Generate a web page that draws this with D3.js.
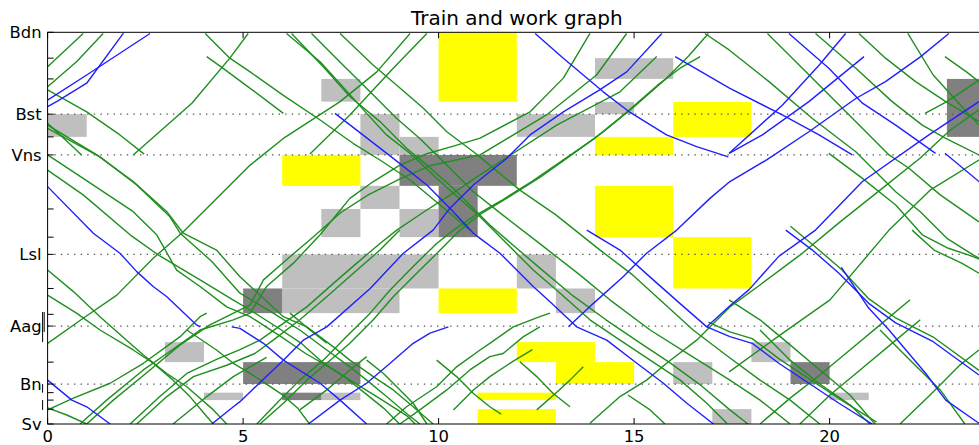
<!DOCTYPE html>
<html>
<head>
<meta charset="utf-8">
<script src="https://cdnjs.cloudflare.com/ajax/libs/d3/7.8.5/d3.min.js"></script>
<style>
  html, body { margin: 0; padding: 0; background: #fff; }
  svg { display: block; font-family: "DejaVu Sans", sans-serif; }
</style>
</head>
<body>
<svg id="chart" width="979" height="445"></svg>
<script>
// Stations along the line (km from Sv) and the unlabeled intermediate points
const stationNames = ["Sv", "Bn", "Aag", "Lsl", "Vns", "Bst", "Bdn"];
const stationKm = [0, 10.2, 25.0, 43.3, 68.7, 79.1, 100];
const minorKm = [3.8, 6.1, 8.0, 15.8, 28.0, 34.6, 47.7, 54.9, 73.3, 88.1, 93.4];
const hourTicks = [0, 5, 10, 15, 20];

// Work windows: [start h, end h, from km, to km]
const yellowBlocks = [
  [10, 12, 82.3, 100], [6, 8, 60.8, 68.7], [14, 16, 68.7, 73.3], [16, 18, 73.3, 82.2],
  [14, 16, 47.7, 60.8], [16, 18, 34.6, 47.7], [10, 12, 28.3, 34.6], [12, 14, 15.8, 20.9],
  [13, 15, 10.2, 15.8], [11, 13, 6.1, 8.0], [11, 13, 0, 3.8]
];
const lightBlocks = [
  [0, 1, 73.3, 79.1], [7, 8, 82.3, 88.1], [8, 9, 68.7, 79.1], [9, 10, 68.7, 73.3],
  [8, 9, 54.9, 60.8], [7, 8, 47.7, 54.9], [9, 10, 47.7, 54.9], [6, 10, 34.6, 43.3],
  [6, 9, 28.3, 34.6], [12, 13, 34.6, 43.3], [13, 14, 28.3, 34.6], [12, 14, 73.3, 79.1],
  [14, 15, 79.1, 82.2], [14, 16, 88.1, 93.4], [3, 4, 15.8, 20.9], [4, 5, 6.1, 8.0],
  [7, 8, 6.1, 8.0], [16, 17, 10.2, 15.8], [17, 18, 0, 3.8], [18, 19, 15.8, 20.9],
  [20, 21, 6.1, 8.0]
];
const darkBlocks = [
  [9, 12, 60.8, 68.7], [10, 11, 47.7, 60.8], [5, 6, 28.3, 34.6], [5, 8, 10.2, 15.8],
  [6, 7, 6.1, 8.0], [19, 20, 10.2, 15.8], [23, 24, 73.3, 88.1]
];

// Passenger train paths: [h, km]
const blueTrains = [
  [[0,81.0],[0.23,82.3],[1.0,87.0],[1.94,99.8]],
  [[0,82.7],[1.0,89.1],[2.62,99.7]],
  [[0,60.6],[1.17,48.7],[1.85,43.6],[2.28,38.9],[2.70,35.1],[3.05,32.5],[3.81,25.3],[3.9,24.8]],
  [[4.71,24.8],[4.92,24.4],[5.52,20.6],[6.03,16.3],[6.97,10.4],[7.48,6.1],[8.16,0]],
  [[0,11.2],[0.62,6.1],[1.0,4.4],[1.6,0]],
  [[4.2,0],[4.75,4.4],[4.92,5.7],[6.03,16.3],[6.54,21.4],[7.14,24.8],[8.25,34.6],[9.10,43.6],[9.86,49.5],[10.29,55.1],[10.89,61.0],[11.31,64.4],[11.74,67.8],[12.34,73.8],[13.19,79.7],[14.12,85.3],[14.81,89.9],[15.71,99.7]],
  [[6.67,0],[7.48,6.1],[8.16,10.4],[8.76,15.5],[9.35,20.6],[9.78,23.2],[10.25,24.8]],
  [[7.35,79.3],[8.84,67.8],[9.70,61.0],[10.29,55.1],[10.89,48.7],[11.06,47.4],[11.57,43.6],[12.42,35.1],[12.85,31.2],[13.53,24.8],[14.30,21.4],[15.07,15.5],[15.75,10.4],[16.35,5.3],[17.03,0]],
  [[12.47,99.7],[13.19,93.4],[14.21,84.8],[14.89,79.6],[15.83,73.8],[16.60,70.8],[17.41,68.2]],
  [[13.32,24.8],[13.96,30.8],[14.72,37.6],[15.32,43.6],[16.09,49.5],[16.94,57.6],[17.45,61.9],[18.4,67.5],[19.47,74.6],[20.67,83.1],[21.43,87.4],[22.33,93.8],[23.05,99.7]],
  [[13.79,49.5],[14.64,44.4],[15.49,36.8],[16.17,30.8],[16.86,24.8],[17.45,22.3],[18.02,20.6],[18.70,15.5],[19.47,10.4],[20.24,5.3],[21.09,0]],
  [[16.05,93.8],[17.45,85.7],[18.79,78.9],[19.73,73.8],[20.58,68.7]],
  [[17.43,69.1],[18.79,81.4],[19.73,91.6],[20.41,99.7]],
  [[17.43,69.1],[18.28,73.8],[19.47,82.3],[20.88,93.8]],
  [[18.88,49.5],[19.56,44.4],[20.24,38.5],[21.0,30.8],[21.69,25.8],[22.65,21.0],[23.82,12.5]],
  [[20.3,40.0],[21.0,29.6],[21.52,24.0],[22.46,12.9],[22.97,6.1],[23.82,0.2]],
  [[16.86,24.8],[17.43,30.0],[17.94,34.3],[18.70,42.8],[19.64,49.5],[20.84,61.9],[22.54,73.8],[23.82,82.3]],
  [[18.96,99.7],[19.98,90.8],[20.84,81.9],[21.69,76.3],[22.71,69.1]],
  [[22.95,69.1],[23.82,61.9],[24.2,58.5]]
];

// Freight train paths: [h, km]
const greenTrains = [
  [[0,91.2],[0.91,99.7]],
  [[0,86.1],[0.74,92.5],[1.42,99.7]],
  [[0,85.3],[1.0,79.7],[1.85,73.8],[2.47,68.9]],
  [[0,76.8],[0.87,68.7]],
  [[0,76.3],[1.26,68.7],[2.19,61.9],[3.05,54.2],[3.47,48.7],[4.32,44.4],[4.92,37.6],[6.03,27.4],[6.63,24.8],[7.31,19.7],[7.73,16.3],[8.33,12.1],[8.84,8.7],[9.35,4.4],[9.86,0]],
  [[0,75.5],[1.34,68.2],[2.28,61.0],[3.13,52.9],[3.39,48.7],[4.2,41.5],[4.92,33.4],[5.77,28.3],[6.45,24.0],[7.14,18.9],[7.73,14.6],[8.16,11.2],[8.67,7.0],[9.18,2.7],[9.52,0]],
  [[0,68.7],[0.91,62.7],[2.19,54.2],[2.79,48.3],[3.30,39.3],[3.90,35.1],[4.58,29.9],[5.18,27.4],[5.94,22.5],[6.6,18],[7.2,14.5],[7.9,10.2],[8.5,6.5],[9.2,2],[9.4,0]],
  [[0,64.8],[0.91,58.5],[2.11,48.3],[2.87,42.9],[3.90,36.8],[4.74,31.7],[5.18,29.1],[5.9,24.5],[6.5,20.5],[7.0,16],[7.6,12],[8.1,8],[8.6,4],[9.0,0]],
  [[2.19,68.7],[3.69,81.9],[4.66,93.4],[5.13,99.7]],
  [[4.03,99.7],[4.66,93.4],[5.18,89.9],[6.03,83.9],[6.97,77.6],[7.82,71.6],[8.50,67.4],[9.27,62.3],[10.04,55.9],[10.80,49.5]],
  [[4.07,93.8],[4.49,90.8],[5.18,85.7],[6.03,79.3]],
  [[0,20.6],[0.91,27.0],[1.77,32.9],[2.70,42.3],[3.47,49.1],[5.18,66.1],[6.03,72.9],[7.48,82.3],[8.42,89.9],[9.27,99.7]],
  [[0,39.3],[0.66,33.8],[1.34,27.4],[2.02,21.4],[2.45,17.6],[3.05,12.9],[3.56,9.5],[4.24,3.6],[4.58,0]],
  [[0,32.9],[0.74,28.3],[1.34,24.0],[2.19,18.9],[2.70,15.5],[3.21,11.2],[3.64,7.0],[4.07,1.9],[4.24,0]],
  [[0,3.6],[0.66,6.6],[1.6,10.4],[2.45,15.5],[3.39,22.3],[3.90,27.4],[4.07,28.3]],
  [[0.83,0],[1.51,6.1],[2.45,13.8],[3.05,18.0],[3.90,24.0],[4.75,26.6],[5.18,28.3],[5.60,35.1],[6.28,41.0],[6.97,48.3],[7.73,57.6],[8.33,61.9],[9.01,66.1],[9.70,69.0],[10.4,71.0],[11.06,73.0],[12.34,79.7],[13.19,88.3],[13.87,99.7]],
  [[1.0,0],[1.68,6.1],[2.62,13.8],[3.39,20.2],[4.15,25.3],[5.18,30.4],[5.52,36.8],[6.20,42.7],[6.80,47.8],[7.5,54],[8.2,58.5],[9.0,62.5],[9.8,66],[11.06,68.7],[12.76,78.9],[14.04,89.1],[14.81,99.7]],
  [[2.11,0],[2.87,7.0],[3.56,12.9],[4.32,16.5],[4.92,19.0],[5.43,21.4],[6.03,25.7],[6.63,29.9],[7.31,35.9],[7.90,41.0],[8.50,46.1],[8.93,49.5],[9.6,54],[10.3,58.5],[11.06,63.6],[13.02,76.3],[14.64,84.8],[15.58,93.8]],
  [[2.28,0],[3.05,7.0],[3.73,12.1],[4.58,15.0],[5.3,18.0],[5.77,21.4],[6.45,26.6],[7.14,32.5],[7.82,38.5],[8.50,44.4],[9.01,49.5]],
  [[3.21,0],[4.07,7.0],[4.75,12.1],[5.18,14.6],[5.6,17]],
  [[0,4.1],[0.49,2.3],[1.0,0]],
  [[3.56,24.0],[4.32,18.9],[4.75,15.5],[5.18,12.9],[5.6,10.2],[6.0,7.5],[6.4,4],[6.7,0]],
  [[5.43,0],[6.03,5.3],[6.63,11.2],[7.14,15.5],[7.73,20.6],[8.33,26.6],[8.84,32.5],[9.44,38.5],[10.04,44.4],[10.55,49.5],[11.06,53.5],[11.8,58],[12.6,63],[13.4,68.7],[14.2,74.5],[15.0,81],[15.8,88],[16.4,94],[16.9,99.7]],
  [[5.35,0],[5.94,6.1],[6.45,11.2],[7.05,16.3],[7.64,22.3],[8.25,28.3],[8.76,34.2],[9.35,40.2],[9.95,46.1],[10.38,49.5],[10.9,53],[11.6,57],[12.4,62],[13.2,67.5],[14.0,73],[14.8,79.5],[15.6,86.5],[16.2,91],[16.69,93.8]],
  [[8.67,0],[9.18,4.4],[9.95,9.5],[10.46,14.6],[11.06,18.9],[11.31,20.6],[11.91,24.8],[12.59,27.4],[12.85,28.3]],
  [[9.01,0],[9.52,3.6],[10.21,8.7],[10.80,13.8],[11.31,17.2],[11.65,18.0],[12.17,22.3],[12.59,24.8]],
  [[10.38,3.6],[10.89,8.7],[11.31,12.1],[11.9,16],[12.4,19]],
  [[6.45,3.6],[7.14,8.7],[7.73,13.8],[8.16,17.2]],
  [[8.16,16.3],[8.59,12.9],[8.84,10.4],[9.35,5.3],[9.70,0]],
  [[9.95,16.3],[10.46,12.1],[10.89,7.8],[11.31,4.4],[11.6,2.5]],
  [[6.20,28.3],[6.71,24.0],[7.14,20.6]],
  [[6.11,99.7],[6.97,92.5],[7.48,86.9],[8.16,79.3],[8.67,73.8],[9.27,69.1],[10.04,61.9],[11.06,52.9],[11.57,47.8],[12.42,39.3],[13.11,33.4],[13.87,26.6],[14.64,21.4],[15.41,16.3],[16.18,11.2],[16.86,5.3],[17.37,0.2]],
  [[6.24,99.7],[7.05,91.2],[7.73,83.6],[8.50,77.2],[9.18,70.4],[9.70,66.1],[10.38,60.1],[11.31,50.8],[11.90,45.7],[12.59,39.8],[13.44,32.7],[14.28,26.6],[15.15,20.7],[15.92,15.6],[16.69,10.0],[17.45,3.6],[17.91,0]],
  [[6.75,99.7],[7.56,91.6],[8.33,84.0],[8.93,78.0],[9.52,72.9],[10.21,66.1],[10.89,59.3],[11.57,53.9],[12.67,45.4],[13.62,38.0],[14.38,31.7],[15.41,24.0],[16.43,17.6],[17.45,11.2],[18.22,6.1],[18.99,0]],
  [[7.48,99.7],[8.33,91.6],[8.93,86.5],[9.61,80.6],[10.21,74.6],[10.89,69.5],[11.31,66.1],[12.08,59.7],[13.0,53.4],[14.13,44.4],[14.97,38.0],[15.66,31.7],[16.51,24.0],[17.35,17.6],[18.22,11.2],[18.99,6.1],[19.75,0]],
  [[6.71,68.9],[7.73,78.9],[8.84,90.8],[9.70,99.7]],
  [[13.87,0.2],[14.64,7.0],[15.32,11.2],[15.83,15.5],[16.60,21.4],[17.45,29.9],[18.22,35.5],[19.24,43.1],[20.27,51.6],[21.29,59.7],[22.32,67.9],[23.08,75.0],[23.82,80.2]],
  [[18.41,99.7],[19.56,88.3],[20.50,78.9],[21.52,68.7],[22.03,65.3],[22.83,58.5],[23.82,51.6]],
  [[16.81,99.7],[17.43,95.5],[18.45,87.4],[19.56,78.0],[20.67,69.5],[21.69,59.3],[22.32,54.2],[23.0,47.4],[23.68,43.1],[24.1,41]],
  [[19.64,99.7],[20.67,90.8],[21.60,82.3],[22.37,76.3],[22.97,72.9],[23.82,68.7]],
  [[20.75,99.7],[21.43,93.4],[22.20,87.4],[22.97,82.3],[23.82,77.2]],
  [[19.98,69.1],[20.84,62.7],[21.69,55.9],[22.37,48.3],[23.0,45],[23.6,43],[23.85,42]],
  [[22.0,99.7],[22.65,89.1],[23.5,79.7],[23.82,76.3]],
  [[22.95,93.8],[23.5,89.9],[23.82,87.4]],
  [[22.44,79.3],[23.0,82.3],[23.82,87.8]],
  [[17.43,13.3],[18.73,22.7],[20.01,31.7],[21.52,49.5],[22.57,59.7],[23.82,67.4]],
  [[17.43,31.7],[18.22,26.6],[18.99,20.2],[19.75,13.8],[20.52,7.4],[21.16,0]],
  [[18.22,24.0],[18.99,16.3],[19.75,10.2],[20.52,4.9],[21.03,0]],
  [[18.22,0],[18.99,6.6],[19.75,12.5],[20.52,18.9],[21.29,25.3],[22.06,31.7]],
  [[19.24,0],[20.01,7.4],[20.78,13.8],[21.55,20.2],[22.32,26.6]],
  [[21.29,24.0],[22.06,16.3],[22.83,8.7],[23.46,0]],
  [[21.80,0],[22.57,7.4],[23.34,15.1],[23.82,18.9]],
  [[22.11,49.5],[22.67,44.4],[23.39,41.0],[23.82,38.5]],
  [[12.08,15.9],[12.51,12.1],[12.93,7.8],[13.36,4.4]],
  [[12.51,3.6],[13.0,7.9],[13.36,11.2],[13.7,14.6]],
  [[14.84,7.4],[15.41,3.6],[15.79,0]],
  [[19.0,50.5],[19.6,45.5],[20.3,39.5],[21.0,32.0],[21.7,27.0],[22.65,22.2],[23.82,13.7]],
  [[16.9,26.0],[17.45,23.5],[18.02,21.8],[18.70,16.7],[19.47,11.6],[20.24,6.5],[21.2,0.5]]
];

// Short vertical marks beside the crowded Aag and Bn labels: [x offset px, from km, to km]
const sideMarks = [[-5, 20.9, 28.6], [-3.4, 23.5, 28.6], [-5, 8.0, 10.2], [-5, 3.6, 6.1]];

const svg = d3.select("#chart");
const W = 979, H = 445;
const plot = { left: 47.6, right: 986, top: 32.3, bottom: 424 };

const x = d3.scaleLinear().domain([0, 24]).range([plot.left, plot.right]);
const y = d3.scaleLinear().domain([0, 100]).range([plot.bottom, plot.top]);

svg.append("rect").attr("width", W).attr("height", H).attr("fill", "#fff");

svg.append("defs").append("clipPath").attr("id", "plotArea")
  .append("rect")
  .attr("x", plot.left).attr("y", plot.top)
  .attr("width", plot.right - plot.left).attr("height", plot.bottom - plot.top);

const g = svg.append("g").attr("clip-path", "url(#plotArea)");

function drawBlocks(data, fill) {
  g.append("g").selectAll("rect").data(data).join("rect")
    .attr("x", d => x(d[0]))
    .attr("y", d => y(d[3]))
    .attr("width", d => x(d[1]) - x(d[0]))
    .attr("height", d => y(d[2]) - y(d[3]))
    .attr("fill", fill);
}
drawBlocks(lightBlocks, "#bfbfbf");
drawBlocks(darkBlocks, "#808080");
drawBlocks(yellowBlocks, "#ffff00");

// Dotted station lines
g.append("g").selectAll("line")
  .data(stationKm.filter((d, i) => i > 0 && i < stationKm.length - 1))
  .join("line")
  .attr("x1", plot.left).attr("x2", plot.right)
  .attr("y1", d => y(d)).attr("y2", d => y(d))
  .attr("stroke", "#555").attr("stroke-width", 1.2)
  .attr("stroke-dasharray", "1.4,5.2");

const line = d3.line().x(d => x(d[0])).y(d => y(d[1]));

g.append("g").selectAll("path").data(greenTrains).join("path")
  .attr("d", line).attr("fill", "none")
  .attr("stroke", "#1f8f1f").attr("stroke-width", 1.4)
  .attr("stroke-linejoin", "round");

g.append("g").selectAll("path").data(blueTrains).join("path")
  .attr("d", line).attr("fill", "none")
  .attr("stroke", "#2020ff").attr("stroke-width", 1.4)
  .attr("stroke-linejoin", "round");

// Frame
svg.append("rect")
  .attr("x", plot.left).attr("y", plot.top)
  .attr("width", plot.right - plot.left).attr("height", plot.bottom - plot.top)
  .attr("fill", "none").attr("stroke", "#000").attr("stroke-width", 1);

// Ticks (inward, both sides)
const tickG = svg.append("g").attr("stroke", "#000").attr("stroke-width", 1);
const allKm = stationKm.concat(minorKm);
allKm.forEach(k => {
  tickG.append("line").attr("x1", plot.left).attr("x2", plot.left + 6).attr("y1", y(k)).attr("y2", y(k));
  tickG.append("line").attr("x1", plot.right).attr("x2", plot.right - 6).attr("y1", y(k)).attr("y2", y(k));
});
hourTicks.forEach(h => {
  tickG.append("line").attr("x1", x(h)).attr("x2", x(h)).attr("y1", plot.bottom).attr("y2", plot.bottom - 6);
  tickG.append("line").attr("x1", x(h)).attr("x2", x(h)).attr("y1", plot.top).attr("y2", plot.top + 6);
});
sideMarks.forEach(m => {
  tickG.append("line")
    .attr("x1", plot.left + m[0]).attr("x2", plot.left + m[0])
    .attr("y1", y(m[1])).attr("y2", y(m[2]));
});

// Tick labels
const fs = 16.4;
svg.append("g").selectAll("text").data(stationNames).join("text")
  .attr("x", plot.left - 6)
  .attr("y", (d, i) => y(stationKm[i]))
  .attr("dy", "0.36em")
  .attr("text-anchor", "end")
  .attr("font-size", fs)
  .attr("fill", "#000")
  .text(d => d);

svg.append("g").selectAll("text").data(hourTicks).join("text")
  .attr("x", d => x(d))
  .attr("y", plot.bottom + 18)
  .attr("text-anchor", "middle")
  .attr("font-size", fs)
  .attr("fill", "#000")
  .text(d => d);

svg.append("text")
  .attr("x", (plot.left + plot.right) / 2)
  .attr("y", 25)
  .attr("text-anchor", "middle")
  .attr("font-size", 20)
  .attr("fill", "#000")
  .text("Train and work graph");
</script>
</body>
</html>
